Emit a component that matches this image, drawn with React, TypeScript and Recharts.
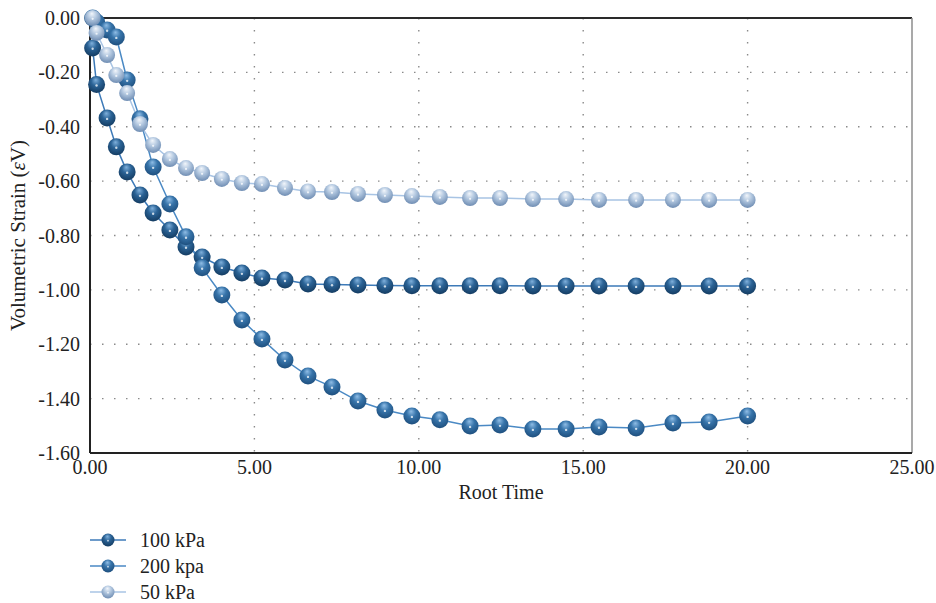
import React from "react";
import {
  LineChart,
  Line,
  XAxis,
  YAxis,
  CartesianGrid,
  Legend,
  ReferenceLine,
} from "recharts";

// root time (x) shared by all three load steps
const rootTime = [
  0.08, 0.2, 0.52, 0.8, 1.13, 1.52, 1.92, 2.43, 2.92, 3.41, 4.01, 4.62, 5.23,
  5.93, 6.63, 7.36, 8.15, 8.97, 9.79, 10.64, 11.56, 12.47, 13.47, 14.48, 15.48,
  16.61, 17.73, 18.83, 20.0,
];

const strain100 = [
  -0.11, -0.245, -0.368, -0.474, -0.566, -0.651, -0.717, -0.78, -0.842, -0.879,
  -0.916, -0.938, -0.956, -0.964, -0.978, -0.98, -0.982, -0.984, -0.985, -0.985,
  -0.985, -0.985, -0.986, -0.986, -0.986, -0.986, -0.986, -0.986, -0.986,
];

const strain200 = [
  0, -0.015, -0.044, -0.07, -0.228, -0.371, -0.548, -0.684, -0.805, -0.919,
  -1.019, -1.111, -1.181, -1.258, -1.317, -1.357, -1.409, -1.442, -1.464,
  -1.478, -1.501, -1.497, -1.512, -1.512, -1.504, -1.508, -1.49, -1.486, -1.464,
];

const strain50 = [
  0, -0.055, -0.136, -0.21, -0.276, -0.39, -0.467, -0.519, -0.552, -0.57,
  -0.592, -0.607, -0.611, -0.625, -0.638, -0.64, -0.647, -0.651, -0.655,
  -0.658, -0.662, -0.662, -0.666, -0.666, -0.669, -0.669, -0.669, -0.669,
  -0.669,
];

const xTicks = [0, 5, 10, 15, 20, 25];
const yTicks = [0, -0.2, -0.4, -0.6, -0.8, -1.0, -1.2, -1.4, -1.6];

const data = rootTime.map((t, i) => ({
  t,
  s100: strain100[i],
  s200: strain200[i],
  s50: strain50[i],
}));

const FONT = "'Liberation Serif', 'DejaVu Serif', serif";
const FS = 20;

const series = [
  { key: "s100", name: "100 kPa", line: "#3d7ab8", grad: "ball100", r: 8.5 },
  { key: "s200", name: "200 kpa", line: "#4a89c4", grad: "ball200", r: 8.5 },
  { key: "s50", name: "50 kPa", line: "#a8c4e4", grad: "ball50", r: 8 },
];

const Ball = ({ cx, cy, r, grad }: { cx: number; cy: number; r: number; grad: string }) => (
  <g>
    <circle cx={cx} cy={cy} r={r} fill={`url(#${grad})`} />
    <circle cx={cx} cy={cy + r * 0.1} r={r * 0.14} fill="#ffffff" opacity={0.75} />
  </g>
);

const makeDot = (grad: string, r: number) => (props: any) => {
  const { cx, cy, index } = props;
  if (cx == null || cy == null) return <g key={index} />;
  return <Ball key={index} cx={cx} cy={cy} r={r} grad={grad} />;
};

const renderLegend = () => (
  <div
    style={{
      height: 92,
      boxSizing: "border-box",
      paddingTop: 16,
      paddingLeft: 88,
      fontFamily: FONT,
      fontSize: FS,
      color: "#222",
    }}
  >
    {series.map((s) => (
      <div key={s.key} style={{ display: "flex", alignItems: "center", height: 26 }}>
        <svg width={40} height={20} style={{ marginRight: 12 }}>
          <line x1={2} y1={10} x2={38} y2={10} stroke={s.line} strokeWidth={1.5} />
          <Ball cx={20} cy={10} r={6.5} grad={s.grad} />
        </svg>
        <span>{s.name}</span>
      </div>
    ))}
  </div>
);

const YLabel = (props: any) => {
  const { viewBox } = props;
  const x = viewBox.x + 18;
  const y = viewBox.y + viewBox.height / 2;
  return (
    <text
      x={x}
      y={y}
      transform={`rotate(-90, ${x}, ${y})`}
      textAnchor="middle"
      dominantBaseline="central"
      fontFamily={FONT}
      fontSize={21}
      fill="#222"
    >
      Volumetric Strain (<tspan fontStyle="italic">ε</tspan>V)
    </text>
  );
};

export default function App() {
  return (
    <div style={{ position: "absolute", left: 0, top: 0, background: "#fff" }}>
      <LineChart
        width={936}
        height={603}
        data={data}
        margin={{ top: 18, right: 24, bottom: 0, left: 0 }}
      >
        <defs>
          <radialGradient id="ball100" cx="50%" cy="38%" r="62%" fx="45%" fy="22%">
            <stop offset="0%" stopColor="#7fb0dc" />
            <stop offset="45%" stopColor="#2b6396" />
            <stop offset="100%" stopColor="#143c62" />
          </radialGradient>
          <radialGradient id="ball200" cx="50%" cy="38%" r="62%" fx="45%" fy="22%">
            <stop offset="0%" stopColor="#8fbde6" />
            <stop offset="45%" stopColor="#3774aa" />
            <stop offset="100%" stopColor="#1e4f7e" />
          </radialGradient>
          <radialGradient id="ball50" cx="50%" cy="38%" r="62%" fx="45%" fy="22%">
            <stop offset="0%" stopColor="#f2f6fb" />
            <stop offset="45%" stopColor="#b3c8e0" />
            <stop offset="100%" stopColor="#6f8db3" />
          </radialGradient>
        </defs>
        <CartesianGrid
          stroke="#8a8a8a"
          strokeWidth={1.4}
          strokeDasharray="1.5 10.5"
          horizontalValues={[-0.2, -0.4, -0.6, -0.8, -1.0, -1.2, -1.4]}
          verticalValues={[5, 10, 15, 20]}
        />
        <XAxis
          dataKey="t"
          type="number"
          domain={[0, 25]}
          ticks={xTicks}
          tickFormatter={(v: number) => v.toFixed(2)}
          tickLine={false}
          tickMargin={1}
          axisLine={{ stroke: "#222", strokeWidth: 2 }}
          tick={{ fill: "#222", fontSize: FS, fontFamily: FONT }}
          height={58}
          label={{
            value: "Root Time",
            position: "insideBottom",
            offset: 12,
            fill: "#222",
            fontSize: FS,
            fontFamily: FONT,
          }}
        />
        <YAxis
          type="number"
          domain={[-1.6, 0]}
          ticks={yTicks}
          tickFormatter={(v: number) => v.toFixed(2)}
          tickLine={false}
          tickMargin={4}
          axisLine={{ stroke: "#222", strokeWidth: 2 }}
          tick={{ fill: "#222", fontSize: FS, fontFamily: FONT }}
          width={90}
          label={<YLabel />}
        />
        <ReferenceLine y={0} stroke="#2a2a2a" strokeWidth={2} />
        <ReferenceLine x={25} stroke="#8c8c8c" strokeWidth={1.5} />
        <Legend verticalAlign="bottom" align="left" content={renderLegend} />
        {series.map((s) => (
          <Line
            key={s.key}
            type="linear"
            dataKey={s.key}
            name={s.name}
            stroke={s.line}
            strokeWidth={1.5}
            dot={makeDot(s.grad, s.r)}
            activeDot={false}
            isAnimationActive={false}
          />
        ))}
      </LineChart>
    </div>
  );
}
